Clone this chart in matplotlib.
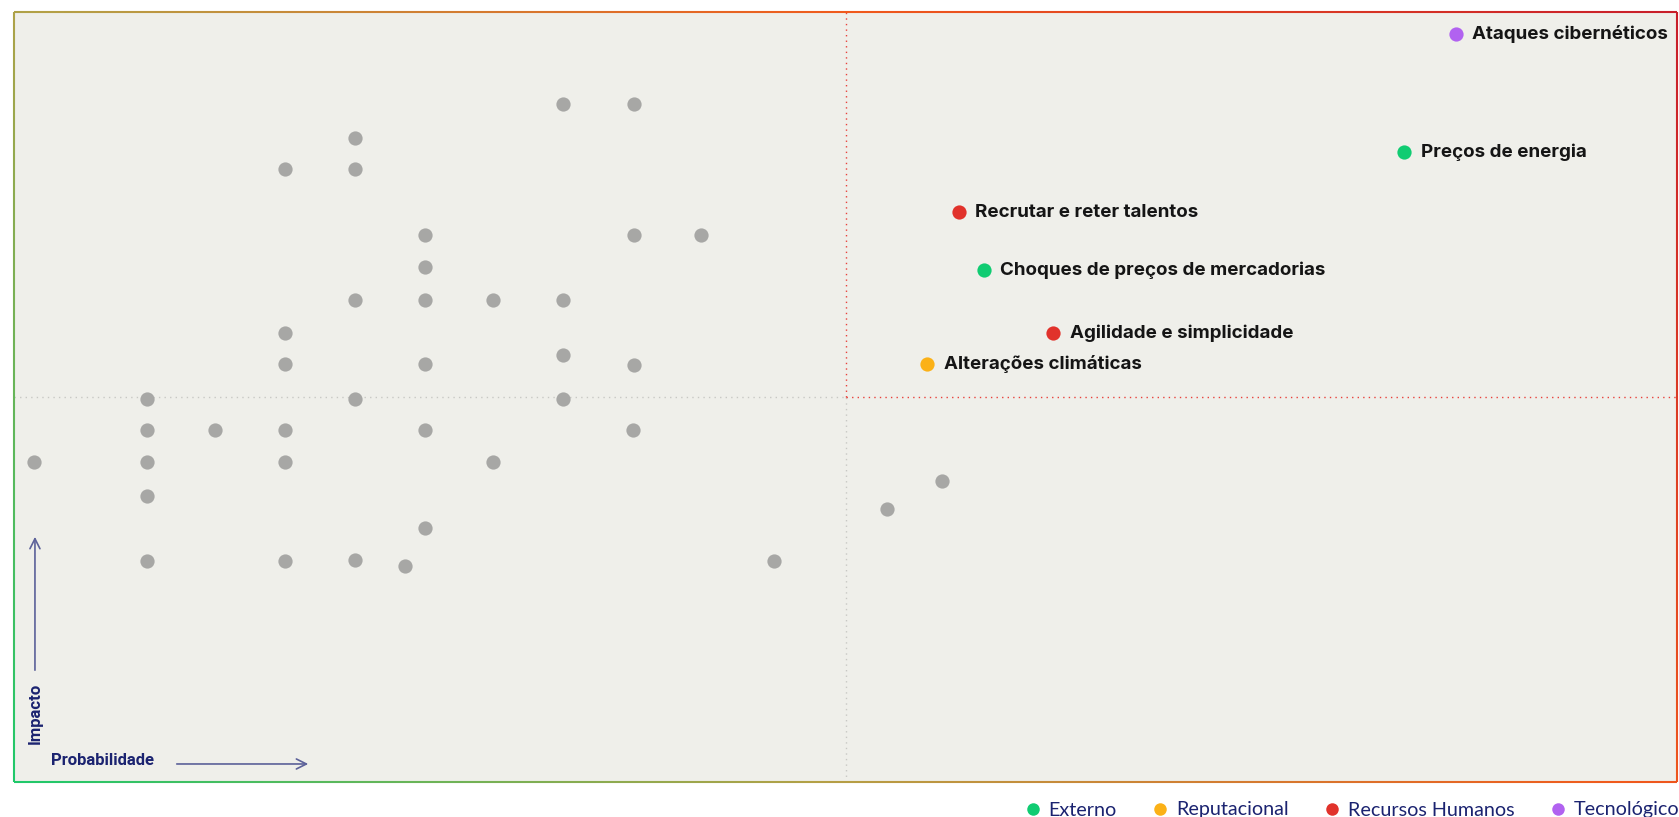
import numpy as np
import matplotlib
matplotlib.use("Agg")
import matplotlib.pyplot as plt
from matplotlib.collections import LineCollection
from matplotlib.colors import LinearSegmentedColormap
from matplotlib.lines import Line2D

# grey (unlabelled) risks: probability, impact (0-100 scale)
grey_x = [1.2, 8.0, 8.0, 8.0, 8.0, 8.0,
          12.1,
          16.3, 16.3, 16.3, 16.3, 16.3, 16.3,
          20.5, 20.5, 20.5, 20.5, 20.5,
          23.5,
          24.7, 24.7, 24.7, 24.7, 24.7, 24.7,
          28.8, 28.8,
          33.0, 33.0, 33.0, 33.0,
          37.3, 37.3, 37.3, 37.2,
          41.3, 45.7, 52.5, 55.8]
grey_y = [41.5, 49.8, 45.7, 41.5, 37.2, 28.7,
          45.7,
          79.6, 58.3, 54.3, 45.7, 41.5, 28.7,
          83.6, 79.6, 62.6, 49.8, 28.8,
          28.0,
          71.0, 66.9, 62.6, 54.3, 45.7, 33.0,
          62.6, 41.5,
          88.1, 62.6, 55.4, 49.7,
          88.1, 71.0, 54.1, 45.7,
          71.0, 28.7, 35.5, 39.1]

# highlighted risks
risk_names = ["Ataques cibernéticos", "Preços de energia", "Recrutar e reter talentos",
              "Choques de preços de mercadorias", "Agilidade e simplicidade",
              "Alterações climáticas"]
risk_x = [86.7, 83.6, 56.8, 58.3, 62.5, 54.9]
risk_y = [97.2, 81.8, 74.0, 66.5, 58.3, 54.3]
risk_cat = ["Tecnológico", "Externo", "Recursos Humanos", "Externo",
            "Recursos Humanos", "Reputacional"]

categories = ["Externo", "Reputacional", "Recursos Humanos", "Tecnológico"]
cat_colors = ["#10cc72", "#fbb117", "#e1322b", "#b162f0"]

navy = "#1b2370"
arrow_col = "#5c6199"
bg = "#efefea"

fig = plt.figure(figsize=(16.79, 8.17), dpi=100)
ax = fig.add_axes([14 / 1679, 35 / 817, 1663 / 1679, 770 / 817])
ax.set_facecolor(bg)
ax.set_xlim(0, 100)
ax.set_ylim(0, 100)
ax.set_xticks([])
ax.set_yticks([])
for s in ax.spines.values():
    s.set_visible(False)

# quadrant lines
ax.plot([0, 50], [50, 50], color="#c8c8c4", lw=1, ls=(0, (1, 3)), zorder=1)
ax.plot([50, 50], [0, 50], color="#c8c8c4", lw=1, ls=(0, (1, 3)), zorder=1)
ax.plot([50, 100], [50, 50], color="#e8413c", lw=1, ls=(0, (1, 3)), zorder=1)
ax.plot([50, 50], [50, 100], color="#e8413c", lw=1, ls=(0, (1, 3)), zorder=1)

ax.scatter(grey_x, grey_y, s=105, color="#a7a7a5", lw=0, zorder=3)

for cat, col in zip(categories, cat_colors):
    xs = [x for x, c in zip(risk_x, risk_cat) if c == cat]
    ys = [y for y, c in zip(risk_y, risk_cat) if c == cat]
    ax.scatter(xs, ys, s=105, color=col, lw=0, zorder=3)

for name, x, y in zip(risk_names, risk_x, risk_y):
    ax.annotate(name, (x, y), xytext=(12, 0), textcoords="offset points",
                va="center", ha="left", fontsize=13.5, fontweight="bold",
                family=["Inter", "DejaVu Sans"], color="#151515", zorder=4)

# gradient border
W, H = 1663.0, 770.0
cmap = LinearSegmentedColormap.from_list(
    "edge", [(0, "#1fc86a"), (0.33, "#b4a046"), (0.66, "#f05a1c"), (1, "#c81e2a")])
n = 200
corners = [(0, 0), (1, 0), (1, 1), (0, 1), (0, 0)]
segs, cols = [], []
for (u0, v0), (u1, v1) in zip(corners[:-1], corners[1:]):
    t = np.linspace(0, 1, n + 1)
    u = u0 + (u1 - u0) * t
    v = v0 + (v1 - v0) * t
    for i in range(n):
        segs.append([(u[i], v[i]), (u[i + 1], v[i + 1])])
        um, vm = (u[i] + u[i + 1]) / 2, (v[i] + v[i + 1]) / 2
        cols.append(cmap((um * W + vm * H) / (W + H)))
lc = LineCollection(segs, colors=cols, linewidths=1.5, transform=ax.transAxes,
                    clip_on=False, zorder=5)
ax.add_collection(lc)

# axis hints
hint_font = dict(fontsize=12, fontweight="bold", color=navy,
                 family=["Roboto", "DejaVu Sans"])
ax.annotate("", xy=(0.0126, 0.322), xytext=(0.0126, 0.1416), xycoords="axes fraction",
            arrowprops=dict(arrowstyle="->", color=arrow_col, lw=1.2,
                            mutation_scale=18))
ax.text(0.0125, 0.089, "Impacto", transform=ax.transAxes, rotation=90,
        ha="center", va="center", **hint_font)
ax.annotate("", xy=(0.1786, 0.0234), xytext=(0.0962, 0.0234), xycoords="axes fraction",
            arrowprops=dict(arrowstyle="->", color=arrow_col, lw=1.2,
                            mutation_scale=18))
ax.text(0.0535, 0.0273, "Probabilidade", transform=ax.transAxes,
        ha="center", va="center", **hint_font)

handles = [Line2D([], [], marker="o", ls="none", color=c, markersize=9, mec="none")
           for c in cat_colors]
leg = fig.legend(handles, categories, loc="center right", bbox_to_anchor=(1.0, 7 / 817),
                 ncol=4, frameon=False, handlelength=0.6,
                 handletextpad=0.5, columnspacing=1.9, borderpad=0, borderaxespad=0,
                 prop={"family": ["Lato", "DejaVu Sans"], "size": 14.2})
for t in leg.get_texts():
    t.set_color(navy)

fig.savefig("out.png", dpi=100, facecolor="white")
